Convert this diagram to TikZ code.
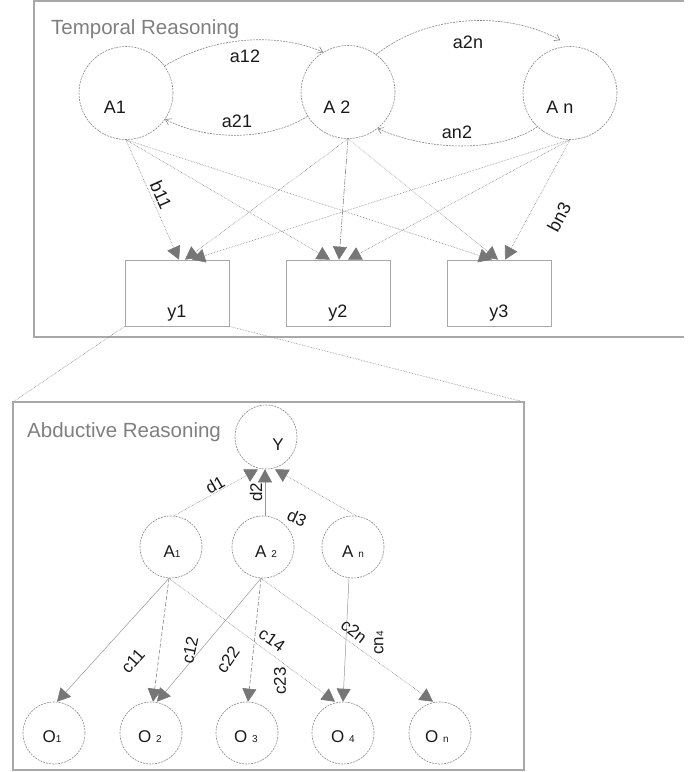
\documentclass[tikz,border=0pt]{standalone}
\usepackage{fontspec}
\setmainfont{Liberation Sans}
\usetikzlibrary{shapes.geometric,arrows.meta}

\definecolor{framegray}{HTML}{A8A8A8}
\definecolor{linegray}{HTML}{858585}
\definecolor{headgray}{HTML}{767676}
\definecolor{titlegray}{HTML}{7F7F7F}
\definecolor{inkgray}{HTML}{1A1A1A}

\newcommand\smalldigit[1]{{\fontsize{10}{10}\selectfont #1}}

\begin{document}
\begin{tikzpicture}[x=1pt,y=-1pt,
  bigstate/.style={ellipse, draw=linegray, dash pattern=on 2pt off 1pt, line width=0.6pt,
    minimum width=94pt, minimum height=93pt, inner sep=0pt},
  smallstate/.style={ellipse, draw=linegray, dash pattern=on 2pt off 1pt, line width=0.6pt,
    minimum width=62pt, minimum height=62pt, inner sep=0pt},
  outbox/.style={rectangle, draw=framegray, line width=0.7pt,
    minimum width=104pt, minimum height=66pt, inner sep=0pt},
  frame/.style={draw=framegray, line width=1.2pt},
  heading/.style={text=titlegray, font=\fontsize{20.5}{23}\selectfont, anchor=base west, inner sep=0pt},
  lbl/.style={text=inkgray, font=\fontsize{18}{20}\selectfont, inner sep=0pt},
  slbl/.style={text=inkgray, font=\fontsize{17}{19}\selectfont, inner sep=0pt},
  tip/.style={-{Triangle[length=13pt,width=14pt,color=headgray]}},
  link/.style={draw=linegray, line width=0.6pt, densely dotted, tip},
  solidlink/.style={draw=linegray!85, line width=0.5pt, tip},
  dashlink/.style={draw=linegray, line width=0.6pt, dash pattern=on 4pt off 2pt, tip},
  looplink/.style={draw=linegray, line width=0.6pt, dash pattern=on 2pt off 1pt,
    -{Straight Barb[length=5pt,width=7pt,color=linegray]}},
  proj/.style={draw=linegray, line width=0.6pt, densely dotted}
]
\useasboundingbox (0,0) rectangle (697,772);

% ---------- temporal layer ----------
\draw[frame] (684,1) -- (34,1) -- (34,337) -- (684,337);
\node[heading] (ttl1) at (51,34) {Temporal Reasoning};

\node[bigstate] (A1) at (126,93) {};
\node[bigstate] (A2) at (348,92) {};
\node[bigstate] (An) at (570,93) {};
\node[lbl,anchor=base] (tA1) at (115,113) {A1};
\node[lbl,anchor=base] (tA2) at (337,113) {A 2};
\node[lbl,anchor=base] (tAn) at (560,113) {A n};

\node[outbox] (y1) at (177,293) {};
\node[outbox] (y2) at (338,293) {};
\node[outbox] (y3) at (499,293) {};
\node[lbl,anchor=base] (ty1) at (177,317) {y1};
\node[lbl,anchor=base] (ty2) at (338,317) {y2};
\node[lbl,anchor=base] (ty3) at (499,317) {y3};

% transitions between hidden states
\draw[looplink] (A1.35) .. controls (215,35) and (280,33) .. (A2.122);
\draw[looplink] (A2.211) .. controls (270,140) and (210,142) .. (A1.326);
\draw[looplink] (A2.53) .. controls (430,12) and (510,12) .. ([yshift=7pt]An.102);
\draw[looplink] (An.226) .. controls (500,152) and (430,152) .. (A2.309);
\node[lbl] (la12) at (245,56) {a12};
\node[lbl] (la21) at (237,121) {a21};
\node[lbl] (la2n) at (468,42) {a2n};
\node[lbl] (lan2) at (457,132) {an2};

% emissions
\draw[link] (A1.south) -- ([xshift=2pt]y1.north);
\draw[link] (A1.south) -- ([xshift=-8pt]y2.north);
\draw[link] (A1.south) -- ([xshift=-7pt]y3.north);
\draw[link] (A2.south) -- ([xshift=8pt]y1.north);
\draw[draw=linegray, line width=0.6pt, dash pattern=on 6pt off 1.5pt on 1pt off 1.5pt, tip]
  (A2.south) -- ([xshift=1pt]y2.north);
\draw[link] (A2.south) -- ([xshift=-1pt]y3.north);
\draw[link] (An.south) -- ([xshift=15pt]y1.north);
\draw[link] (An.south) -- ([xshift=10pt]y2.north);
\draw[link] (An.south) -- ([xshift=6pt]y3.north);
\node[lbl,rotate=-66] (lb11) at (161,195) {b11};
\node[lbl,rotate=62] (lbn3) at (559,217) {bn3};

% ---------- abductive layer ----------
\coordinate (abdTL) at (13,402);
\coordinate (abdTR) at (524,402);
\coordinate (abdBR) at (524,770);
\draw[proj] (y1.south west) -- (abdTL);
\draw[proj] (y1.south east) -- (abdTR);
\draw[frame] (abdTL) rectangle (abdBR);
\node[heading] (ttl2) at (27,437) {Abductive Reasoning};

\node[smallstate,minimum height=64pt] (Y) at (266,437) {};
\node[slbl,anchor=base] (tY) at (278,450) {Y};

\node[smallstate] (B1) at (171,547) {};
\node[smallstate] (B2) at (263,547) {};
\node[smallstate] (Bn) at (353,547) {};
\node[slbl,anchor=base] (tB1) at (172,557) {A\smalldigit{1}};
\node[slbl,anchor=base] (tB2) at (266,557) {A \smalldigit{2}};
\node[slbl,anchor=base] (tBn) at (353,557) {A \smalldigit{n}};

\node[smallstate] (O1) at (54,733) {};
\node[smallstate] (O2) at (151,733) {};
\node[smallstate] (O3) at (247,733) {};
\node[smallstate] (O4) at (343,733) {};
\node[smallstate] (On) at (440,733) {};
\node[slbl,anchor=base] (tO1) at (52,742) {O\smalldigit{1}};
\node[slbl,anchor=base] (tO2) at (150,742) {O \smalldigit{2}};
\node[slbl,anchor=base] (tO3) at (246,742) {O \smalldigit{3}};
\node[slbl,anchor=base] (tO4) at (343,742) {O \smalldigit{4}};
\node[slbl,anchor=base] (tOn) at (437,742) {O \smalldigit{n}};

% explanations pointing to the observation Y
\draw[link] ([xshift=3pt]B1.north) -- ([xshift=-8pt]Y.south);
\draw[solidlink] ([xshift=2pt]B2.north) -- ([xshift=-1pt]Y.south);
\draw[link] ([xshift=3pt]Bn.north) -- ([xshift=9pt]Y.south);
\node[slbl,rotate=30] (ld1) at (215,485) {d1};
\node[slbl,rotate=90] (ld2) at (256,492) {d2};
\node[slbl,rotate=-25] (ld3) at (297,518) {d3};

% causes to effects
\draw[solidlink] ([xshift=-2pt]B1.south) -- ([xshift=3pt]O1.north);
\draw[dashlink] ([xshift=-2pt]B1.south) -- ([xshift=2pt]O2.north);
\draw[link] ([xshift=-2pt]B1.south) -- ([xshift=-8pt]O4.north);
\draw[solidlink] ([xshift=-2pt]B2.south) -- ([xshift=6pt]O2.north);
\draw[dashlink] ([xshift=-2pt]B2.south) -- ([xshift=1pt]O3.north);
\draw[link] ([xshift=-2pt]B2.south) -- ([xshift=-7pt]On.north);
\draw[solidlink] ([xshift=-4pt]Bn.south) -- ([xshift=0pt]O4.north);
\node[slbl,rotate=48] (lc11) at (133,661) {c11};
\node[slbl,rotate=78] (lc12) at (190,650) {c12};
\node[slbl,rotate=55] (lc22) at (228,660) {c22};
\node[slbl,rotate=-35] (lc14) at (272,640) {c14};
\node[slbl,rotate=90] (lc23) at (280,681) {c23};
\node[slbl,rotate=-38] (lc2n) at (354,631) {c2n};
\node[slbl,rotate=90] (lcn4) at (379,643) {cn\smalldigit{4}};
\end{tikzpicture}
\end{document}
